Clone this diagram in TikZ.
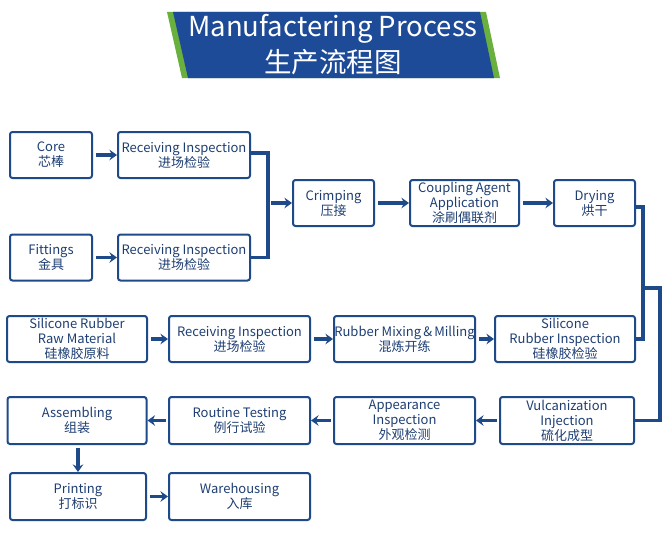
\documentclass[tikz,border=0pt]{standalone}
\usepackage{fontspec}
\setmainfont{Noto Sans CJK SC}
\usetikzlibrary{arrows.meta}
\definecolor{boxblue}{HTML}{1F4A8A}
\definecolor{txtblue}{HTML}{1E3E72}
\definecolor{banblue}{HTML}{1E4B98}
\definecolor{bangreen}{HTML}{6AB03E}
\tikzstyle{stage}=[rectangle,rounded corners=2.5pt,draw=boxblue,line width=2pt,text=txtblue,align=center,font=\fontsize{13}{15}\selectfont,inner sep=0pt,minimum height=46pt]
\tikzstyle{flow}=[draw=boxblue,line width=3.2pt,-{Stealth[length=7.5pt,width=10.5pt,inset=2.5pt]},shorten <=2.5pt]
\tikzstyle{link}=[draw=boxblue,line width=3.5pt]
\tikzstyle{heading}=[text=white,font=\fontsize{27.5}{30}\selectfont,inner sep=0pt]

\begin{document}
\begin{tikzpicture}[x=1pt,y=-1pt]
            \useasboundingbox (0,0) rectangle (671,535);
            \fill[bangreen] (167,12) -- (486,12) -- (500,78) -- (182,78) -- cycle;
            \fill[banblue] (173,12) -- (480,12) -- (494,78) -- (188,78) -- cycle;
            \node (title) at (333,29) [heading] {Manufactering Process};
            \node (titlecn) at (333,62) [heading] {生产流程图};

            \node (core) at (51,155) [stage,minimum width=82pt] {Core\\芯棒};
            \node (recA) at (184,155) [stage,minimum width=132pt] {Receiving Inspection\\进场检验};
            \node (fit) at (51,257.5) [stage,minimum width=82pt] {Fittings\\金具};
            \node (recB) at (184,257.5) [stage,minimum width=132pt] {Receiving Inspection\\进场检验};
            \node (crimp) at (333.5,203) [stage,minimum width=81pt] {Crimping\\压接};
            \node (coupl) at (464.5,203) [stage,minimum width=109pt] {Coupling Agent\\Application\\涂刷偶联剂};
            \node (dry) at (594.5,203) [stage,minimum width=81pt] {Drying\\烘干};
            \node (raw) at (77,339) [stage,minimum width=140pt] {Silicone Rubber\\Raw Material\\硅橡胶原料};
            \node (recC) at (239.5,339) [stage,minimum width=141pt] {Receiving Inspection\\进场检验};
            \node (mix) at (404.5,339) [stage,minimum width=141pt] {Rubber Mixing\,\&\,Milling\\混炼开练};
            \node (silinsp) at (565,339) [stage,minimum width=140pt] {Silicone\\Rubber Inspection\\硅橡胶检验};
            \node (assem) at (77,420.5) [stage,minimum width=139pt,minimum height=47pt] {Assembling\\组装};
            \node (routine) at (239.5,420.5) [stage,minimum width=141pt,minimum height=47pt] {Routine Testing\\例行试验};
            \node (appear) at (404.5,420.5) [stage,minimum width=141pt,minimum height=47pt] {Appearance\\Inspection\\外观检测};
            \node (vulc) at (567,420.5) [stage,minimum width=134pt,minimum height=47pt] {Vulcanization\\Injection\\硫化成型};
            \node (print) at (78,496.5) [stage,minimum width=136pt,minimum height=47pt] {Printing\\打标识};
            \node (ware) at (239.5,496.5) [stage,minimum width=141pt,minimum height=47pt] {Warehousing\\入库};

            \coordinate (jA) at (268,203);
            \coordinate (jB) at (643,288);
            \coordinate (jC) at (660,420.5);

            \draw[flow] (core) -- (recA);
            \draw[flow] (fit) -- (recB);
            \draw[link] ([yshift=2pt]recA.east) -| (jA) |- (recB.east);
            \draw[flow] (jA) -- (crimp);
            \draw[flow] (crimp) -- (coupl);
            \draw[flow] (coupl) -- (dry);
            \draw[link] ([yshift=-4pt]dry.east) -| (jB) |- (silinsp.east);
            \draw[link] (jB) -| (jC) -- (vulc.east);
            \draw[flow] (raw) -- (recC);
            \draw[flow] (recC) -- (mix);
            \draw[flow] (mix) -- (silinsp);
            \draw[flow] (vulc) -- (appear);
            \draw[flow] (appear) -- (routine);
            \draw[flow] (routine) -- (assem);
            \draw[flow] (assem.south -| print.north) -- (print.north);
            \draw[flow] (print) -- (ware);
        \end{tikzpicture}
\end{document}
